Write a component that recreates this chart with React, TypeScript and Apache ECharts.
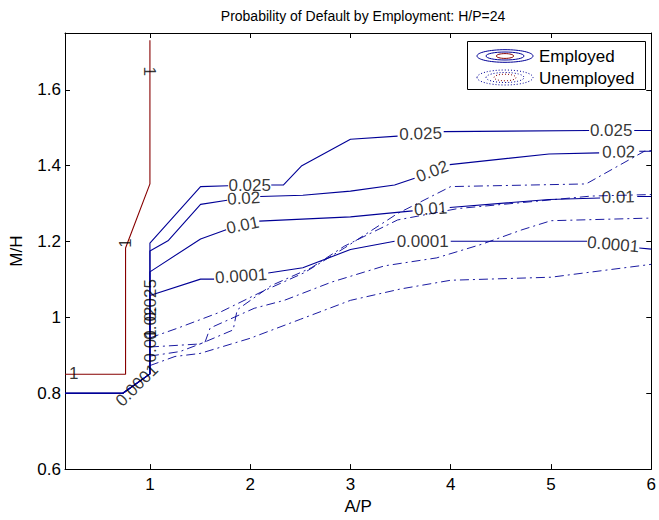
import React, { useEffect, useRef } from "react";
import * as echarts from "echarts";

const TITLE = "Probability of Default by Employment: H/P=24";
const X_MIN = 0.153;
const X_MAX = 6;
const Y_MIN = 0.6;
const Y_MAX = 1.75;
const X_TICKS = [1, 2, 3, 4, 5, 6];
const Y_TICKS = [0.6, 0.8, 1, 1.2, 1.4, 1.6];

// Employed contours (solid), each split into pieces where labels sit
const EMP_0025 = [
  [[0.153, 0.8], [0.73, 0.8], [1, 0.851], [1, 1.196], [1.505, 1.345], [1.78, 1.347]],
  [[2.21, 1.349], [2.33, 1.349], [2.515, 1.4], [3.0, 1.47], [3.47, 1.478]],
  [[3.93, 1.49], [5.38, 1.493]],
  [[5.83, 1.493], [6, 1.493]],
];
const EMP_002 = [
  [[0.153, 0.8], [0.73, 0.8], [1, 0.851], [1, 1.175], [1.18, 1.202], [1.505, 1.298], [1.77, 1.309]],
  [[2.1, 1.319], [2.525, 1.322], [3.0, 1.333], [3.44, 1.349], [3.64, 1.367]],
  [[3.99, 1.403], [4.98, 1.431], [5.48, 1.434]],
  [[5.88, 1.438], [6, 1.438]],
];
const EMP_001 = [
  [[0.153, 0.8], [0.73, 0.8], [1, 0.851], [1, 1.12], [1.505, 1.207], [1.76, 1.231]],
  [[2.09, 1.254], [3.0, 1.265], [3.62, 1.281]],
  [[3.99, 1.29], [4.98, 1.311], [5.49, 1.315]],
  [[5.86, 1.319], [6, 1.319]],
];
const EMP_00001 = [
  [[0.153, 0.8], [0.73, 0.8], [1, 0.851], [1, 1.058], [1.505, 1.101], [1.64, 1.101]],
  [[2.18, 1.117], [2.525, 1.131], [3.0, 1.179], [3.44, 1.201]],
  [[4.0, 1.201], [5.36, 1.201]],
  [[5.88, 1.183], [6, 1.18]],
];
// Level-1 contour (dark red)
const EMP_1 = [
  [[0.153, 0.85], [0.757, 0.85], [0.757, 1.183], [1, 1.352], [1, 1.731]],
];

// Unemployed contours (dash-dot)
const UNEMP_0025 = [[1, 0.946], [1.28, 0.972], [1.71, 1.015], [2.11, 1.067], [2.54, 1.118], [2.94, 1.183], [3.47, 1.274], [4, 1.345], [5.35, 1.352], [5.93, 1.438], [6, 1.44]];
const UNEMP_002 = [[1, 0.922], [1.5, 0.93], [1.83, 0.967], [1.87, 1.02], [2.21, 1.084], [2.61, 1.131], [2.94, 1.188], [3.47, 1.257], [4.07, 1.287], [5, 1.31], [5.4, 1.32], [6, 1.324]];
const UNEMP_001 = [[1, 0.898], [1.3, 0.91], [1.55, 0.935], [1.6, 0.972], [2.04, 1.024], [2.34, 1.045], [2.81, 1.093], [3.34, 1.136], [3.86, 1.157], [4.31, 1.193], [4.71, 1.231], [5, 1.255], [6, 1.262]];
const UNEMP_00001 = [[1, 0.873], [1.25, 0.897], [1.5, 0.905], [2, 0.945], [2.5, 0.995], [3, 1.045], [3.5, 1.075], [4, 1.098], [5, 1.106], [6, 1.14]];

// Contour labels: [x, y, text, rotation in degrees]
const EMP_LABELS: [number, number, string, number][] = [
  [1.995, 1.348, "0.025", 0],
  [3.7, 1.484, "0.025", 2],
  [5.6, 1.493, "0.025", 0],
  [1.935, 1.314, "0.02", 3],
  [3.815, 1.385, "0.02", 21],
  [5.675, 1.436, "0.02", 1],
  [1.925, 1.243, "0.01", 12],
  [3.8, 1.286, "0.01", 4],
  [5.67, 1.317, "0.01", 1],
  [1.91, 1.109, "0.0001", 4],
  [3.72, 1.201, "0.0001", 0],
  [5.62, 1.192, "0.0001", -5],
  [0.87, 0.821, "0.0001", 45],
  [1.01, 0.925, "0.01", 90],
  [1.01, 0.985, "0.02", 90],
  [1.01, 1.045, "0.025", 90],
  [0.24, 0.851, "1", 0],
  [0.757, 1.196, "1", 90],
  [1.0, 1.649, "1", -90],
];

const BLUE = "rgb(0,0,150)";
const RED = "rgb(135,0,0)";
const FONT = "'Liberation Sans', Arial, Helvetica, sans-serif";

export default function App() {
  const ref = useRef<HTMLDivElement>(null);
  useEffect(() => {
    const chart = echarts.init(ref.current as HTMLDivElement, null, { renderer: "svg" });
    const series: any[] = [];
    const addSolid = (segs: number[][][], color: string, name: string) => {
      segs.forEach((seg) =>
        series.push({
          type: "line",
          name,
          data: seg,
          symbol: "none",
          silent: true,
          z: 2,
          lineStyle: { color, width: 1.1 },
        })
      );
    };
    addSolid(EMP_0025, BLUE, "Employed");
    addSolid(EMP_002, BLUE, "Employed");
    addSolid(EMP_001, BLUE, "Employed");
    addSolid(EMP_00001, BLUE, "Employed");
    addSolid(EMP_1, RED, "Employed");
    [UNEMP_0025, UNEMP_002, UNEMP_001, UNEMP_00001].forEach((d) =>
      series.push({
        type: "line",
        name: "Unemployed",
        data: d,
        symbol: "none",
        silent: true,
        z: 2,
        lineStyle: { color: BLUE, width: 0.9, type: [9, 4, 2, 4] },
      })
    );
    series.push({
      type: "scatter",
      name: "labels",
      symbolSize: 1,
      silent: true,
      z: 5,
      itemStyle: { color: "transparent" },
      label: {
        show: true,
        position: "inside",
        color: "#000",
        fontSize: 17,
        fontFamily: FONT,
      },
      data: EMP_LABELS.map(([x, y, t, r]) => ({
        value: [x, y],
        label: { formatter: t, rotate: r },
      })),
    });

    const axisCommon = {
      type: "value",
      splitLine: { show: false },
      axisLine: { show: true, onZero: false, lineStyle: { color: "#000", width: 1 } },
    };

    chart.setOption({
      animation: false,
      backgroundColor: "#fff",
      title: {
        text: TITLE,
        left: 358,
        top: 4,
        textAlign: "center",
        textStyle: { fontSize: 14, fontWeight: "normal", color: "#000", fontFamily: FONT },
      },
      grid: { left: 65, right: 7, top: 33, bottom: 43, containLabel: false },
      xAxis: [
        {
          ...axisCommon,
          min: X_MIN,
          max: X_MAX,
          position: "bottom",
          name: "A/P",
          nameLocation: "middle",
          nameGap: 26,
          nameTextStyle: { fontSize: 17, color: "#000", fontFamily: FONT },
          axisTick: { show: true, inside: true, length: 5, customValues: X_TICKS, lineStyle: { color: "#000" } },
          axisLabel: { customValues: X_TICKS, fontSize: 17, color: "#000", margin: 7, fontFamily: FONT },
        },
        {
          ...axisCommon,
          min: X_MIN,
          max: X_MAX,
          position: "top",
          axisTick: { show: true, inside: true, length: 5, customValues: X_TICKS, lineStyle: { color: "#000" } },
          axisLabel: { show: false, customValues: X_TICKS },
        },
      ],
      yAxis: [
        {
          ...axisCommon,
          min: Y_MIN,
          max: Y_MAX,
          position: "left",
          name: "M/H",
          nameLocation: "middle",
          nameGap: 40,
          nameTextStyle: { fontSize: 17, color: "#000", fontFamily: FONT },
          axisTick: { show: true, inside: true, length: 5, customValues: Y_TICKS, lineStyle: { color: "#000" } },
          axisLabel: {
            customValues: Y_TICKS,
            fontSize: 17,
            color: "#000",
            margin: 4,
            fontFamily: FONT,
            formatter: (v: number) => String(Math.round(v * 10) / 10),
          },
        },
        {
          ...axisCommon,
          min: Y_MIN,
          max: Y_MAX,
          position: "right",
          axisTick: { show: true, inside: true, length: 5, customValues: Y_TICKS, lineStyle: { color: "#000" } },
          axisLabel: { show: false, customValues: Y_TICKS },
        },
      ],
      graphic: [
        {
          type: "group",
          z: 100,
          children: [
            { type: "rect", shape: { x: 467.5, y: 41.5, width: 178, height: 48 }, style: { fill: "#fff", stroke: "#000", lineWidth: 1 } },
            { type: "ellipse", shape: { cx: 505, cy: 56, rx: 28, ry: 6.3 }, style: { fill: "none", stroke: BLUE, lineWidth: 1 } },
            { type: "ellipse", shape: { cx: 505, cy: 56, rx: 19, ry: 4 }, style: { fill: "none", stroke: BLUE, lineWidth: 1 } },
            { type: "ellipse", shape: { cx: 505, cy: 56, rx: 8.7, ry: 2.4 }, style: { fill: "none", stroke: RED, lineWidth: 1 } },
            { type: "ellipse", shape: { cx: 505, cy: 77.5, rx: 28, ry: 7.5 }, style: { fill: "none", stroke: BLUE, lineWidth: 1, lineDash: [1, 2] } },
            { type: "ellipse", shape: { cx: 505, cy: 77.5, rx: 19, ry: 5 }, style: { fill: "none", stroke: BLUE, lineWidth: 1, lineDash: [1, 2] } },
            { type: "ellipse", shape: { cx: 505, cy: 77.5, rx: 11, ry: 3.3 }, style: { fill: "none", stroke: RED, lineWidth: 1, lineDash: [1, 2] } },
            { type: "text", x: 539, y: 56, style: { text: "Employed", fontSize: 17, fill: "#000", fontFamily: FONT, textVerticalAlign: "middle", verticalAlign: "middle" } },
            { type: "text", x: 539, y: 78, style: { text: "Unemployed", fontSize: 17, fill: "#000", fontFamily: FONT, textVerticalAlign: "middle", verticalAlign: "middle" } },
          ],
        },
      ],
      series,
    });
    return () => chart.dispose();
  }, []);
  return (
    <div
      ref={ref}
      style={{ position: "fixed", left: 0, top: 0, width: 659, height: 520, background: "#fff" }}
    />
  );
}
